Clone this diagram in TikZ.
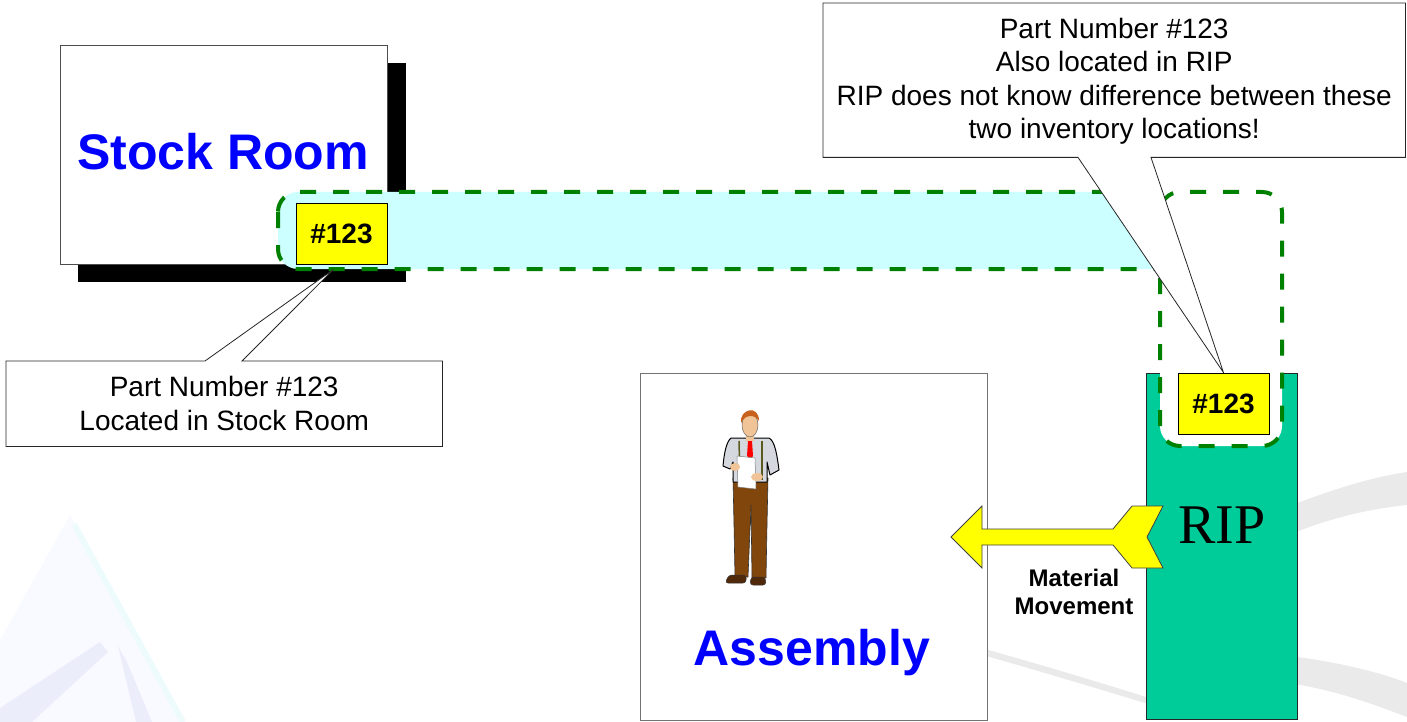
\documentclass[tikz,border=0pt]{standalone}
\usepackage{fontspec}
\setmainfont{Liberation Sans}
\newfontfamily\ripserif{Liberation Serif}
\usetikzlibrary{calc}
\pgfdeclarelayer{backdrop}
\pgfdeclarelayer{front}
\pgfsetlayers{backdrop,main,front}

\definecolor{roomblue}{RGB}{0,0,255}
\definecolor{bandcyan}{RGB}{204,255,255}
\definecolor{dashgreen}{RGB}{0,128,0}
\definecolor{ripteal}{RGB}{0,204,153}
\definecolor{tagyellow}{RGB}{255,255,0}
\definecolor{swoosh}{RGB}{234,234,234}
\definecolor{pyrpale}{RGB}{249,250,255}
\definecolor{pyrlav}{RGB}{236,237,251}
\definecolor{pyrcyan}{RGB}{238,251,253}
\definecolor{trousers}{RGB}{128,70,12}
\definecolor{shoebrown}{RGB}{80,40,10}
\definecolor{shirtgray}{RGB}{214,216,224}
\definecolor{suspender}{RGB}{90,90,30}
\definecolor{skin}{RGB}{240,196,150}
\definecolor{hair}{RGB}{200,96,30}

\tikzset{
  roombox/.style={draw=black!70, line width=1pt, fill=white, inner sep=0pt, anchor=north west},
  bigblue/.style={text=roomblue, font=\bfseries\fontsize{50}{60}\selectfont, inner sep=0pt},
  tagband/.style={draw=dashgreen, line width=4pt, dash pattern=on 16pt off 17pt, rounded corners=20pt},
  tagbox/.style={draw=black, line width=0.8pt, fill=tagyellow, minimum width=91pt, minimum height=61pt, inner sep=0pt, font=\bfseries\fontsize{28}{33}\selectfont},
  notetext/.style={inner sep=0pt, anchor=north west, align=center, font=\fontsize{28}{33.5}\selectfont},
  noteshape/.style={draw=black!85, line width=0.8pt, fill=white, line join=miter},
  ripbox/.style={draw=black!85, line width=1.2pt, fill=ripteal, inner sep=0pt, anchor=north west},
  movearrow/.style={draw=black!75, line width=0.8pt, fill=tagyellow, line join=miter},
  movelabel/.style={align=center, inner sep=0pt, font=\bfseries\fontsize{24}{27.6}\selectfont},
}

\begin{document}
\begin{tikzpicture}[x=1pt,y=-1pt]
\useasboundingbox (0,0) rectangle (1407,722);

% faint backdrop artwork
\begin{pgfonlayer}{backdrop}
  \fill[pyrpale] (0,640) -- (70,515) -- (186,722) -- (0,722) -- cycle;
  \draw[pyrcyan, line width=6pt] (74,524) -- (183,722);
  \fill[pyrlav] (0,708) -- (100,642) -- (108,652) -- (32,722) -- (0,722) -- cycle;
  \fill[pyrlav] (118,646) -- (127,662) -- (152,722) -- (136,722) -- cycle;
  \fill[swoosh] (1250,522) .. controls (1310,497) and (1360,479) .. (1407,472)
     -- (1407,505) .. controls (1360,510) and (1310,522) .. (1250,553) -- cycle;
  \fill[swoosh] (900,626) .. controls (1000,652) and (1100,682) .. (1200,714)
     -- (1200,720) .. controls (1100,689) and (1000,659) .. (900,632) -- cycle;
  \fill[swoosh] (1280,655) .. controls (1330,660) and (1380,672) .. (1407,683)
     -- (1407,717) .. controls (1370,703) and (1330,688) .. (1280,682) -- cycle;
\end{pgfonlayer}

% stock room with its drop shadow
\fill[black] (78,63) rectangle (406,282);
\node[roombox, minimum width=327pt, minimum height=219pt] (stock) at (60,45) {};
\node[bigblue] (stocklbl) at (223,152) {Stock Room};

% assembly area
\node[roombox, draw=black!55, minimum width=347pt, minimum height=347pt] (asm) at (640,373) {};
\node[bigblue, anchor=base] (asmlbl) at (812,665) {Assembly};

% worker
\begin{scope}[line join=round]
  \filldraw[draw=black!80, line width=0.6pt, fill=trousers]
    (733,478) -- (768,478) -- (767,525) -- (766,578) -- (752,578) -- (751,505)
    -- (748,577) -- (735,577) -- (734,525) -- cycle;
  \filldraw[draw=black!80, line width=0.5pt, fill=shoebrown, rounded corners=3pt]
    (725,583) -- (729,575) -- (746,575) -- (746,583) -- cycle;
  \filldraw[draw=black!80, line width=0.5pt, fill=shoebrown, rounded corners=3pt]
    (750,585) -- (751,577) -- (765,577) -- (766,585) -- cycle;
  \filldraw[draw=black, line width=1pt, fill=shirtgray]
    (731,438) -- (769,438) .. controls (775,441) and (777,455) .. (779,470)
    -- (770,475) -- (767,462) -- (767,482) -- (733,482) -- (733,462)
    -- (730,469) -- (723,466) .. controls (724,455) and (726,442) .. (731,438) -- cycle;
  \draw[suspender, line width=1.5pt] (739,441) -- (740,480);
  \draw[suspender, line width=1.5pt] (762,441) -- (762,480);
  \fill[skin] (746,432) rectangle (754,441);
  \filldraw[draw=black!60, line width=0.5pt, fill=skin] (750,425) ellipse [x radius=8, y radius=12];
  \fill[hair] (741,423) .. controls (739,409) and (759,404) .. (759,421)
     .. controls (755,414) and (745,414) .. (741,423) -- cycle;
  \fill[red] (748,441) -- (752,441) -- (753,456) -- (750,459) -- (747,456) -- cycle;
  \filldraw[draw=black!50, line width=0.5pt, fill=white] (737,456) -- (755,458) -- (756,489) -- (738,487) -- cycle;
  \fill[skin] (735,467) ellipse [x radius=5, y radius=4];
  \fill[skin] (757,477) ellipse [x radius=6, y radius=4];
\end{scope}

% RIP bin
\node[ripbox, minimum width=151pt, minimum height=346pt] (rip) at (1146,373) {};
\node[anchor=base, inner sep=0pt, font=\ripserif\fontsize{56}{60}\selectfont] (riplbl) at (1222,543) {RIP};

% the dashed region shared by both locations
\begin{scope}
  \clip (0,0) rectangle (1160,722);
  \path[tagband, fill=bandcyan] (278,192) rectangle (1200,269);
\end{scope}
\path[tagband, fill=white] (1160,192) rectangle (1282,446);

% material movement arrow
\filldraw[movearrow] (951,537) -- (982,506) -- (982,529) -- (1113,529) -- (1132,506)
  -- (1163,506) -- (1147,537) -- (1163,568) -- (1132,568) -- (1113,545)
  -- (982,545) -- (982,568) -- cycle;
\node[movelabel] (movelbl) at (1074,592) {Material\\Movement};

% notes and part tags
\begin{pgfonlayer}{front}
  \node[notetext, minimum width=582pt, minimum height=152pt] (topnote) at (823,5)
    {Part Number \#123\\Also located in RIP\\RIP does not know difference between these\\two inventory locations!};
  \node[notetext, minimum width=436pt, minimum height=85pt] (leftnote) at (6,361)
    {Part Number \#123\\Located in Stock Room};
  \node[tagbox] (ltag) at (341.5,233.5) {\#123};
  \node[tagbox] (rtag) at (1223.5,403.5) {\#123};
\end{pgfonlayer}

\filldraw[noteshape] ([yshift=2pt]topnote.north west) -- ([yshift=2pt]topnote.north east) -- (topnote.south east)
  -- ([xshift=328pt]topnote.south west) -- (rtag.north)
  -- ([xshift=255pt]topnote.south west) -- (topnote.south west) -- cycle;
\filldraw[noteshape] (leftnote.south west) -- (leftnote.north west)
  -- ([xshift=199pt]leftnote.north west) -- ([shift={(-8,5)}]ltag.south)
  -- ([xshift=236pt]leftnote.north west) -- (leftnote.north east)
  -- (leftnote.south east) -- cycle;

\end{tikzpicture}
\end{document}
